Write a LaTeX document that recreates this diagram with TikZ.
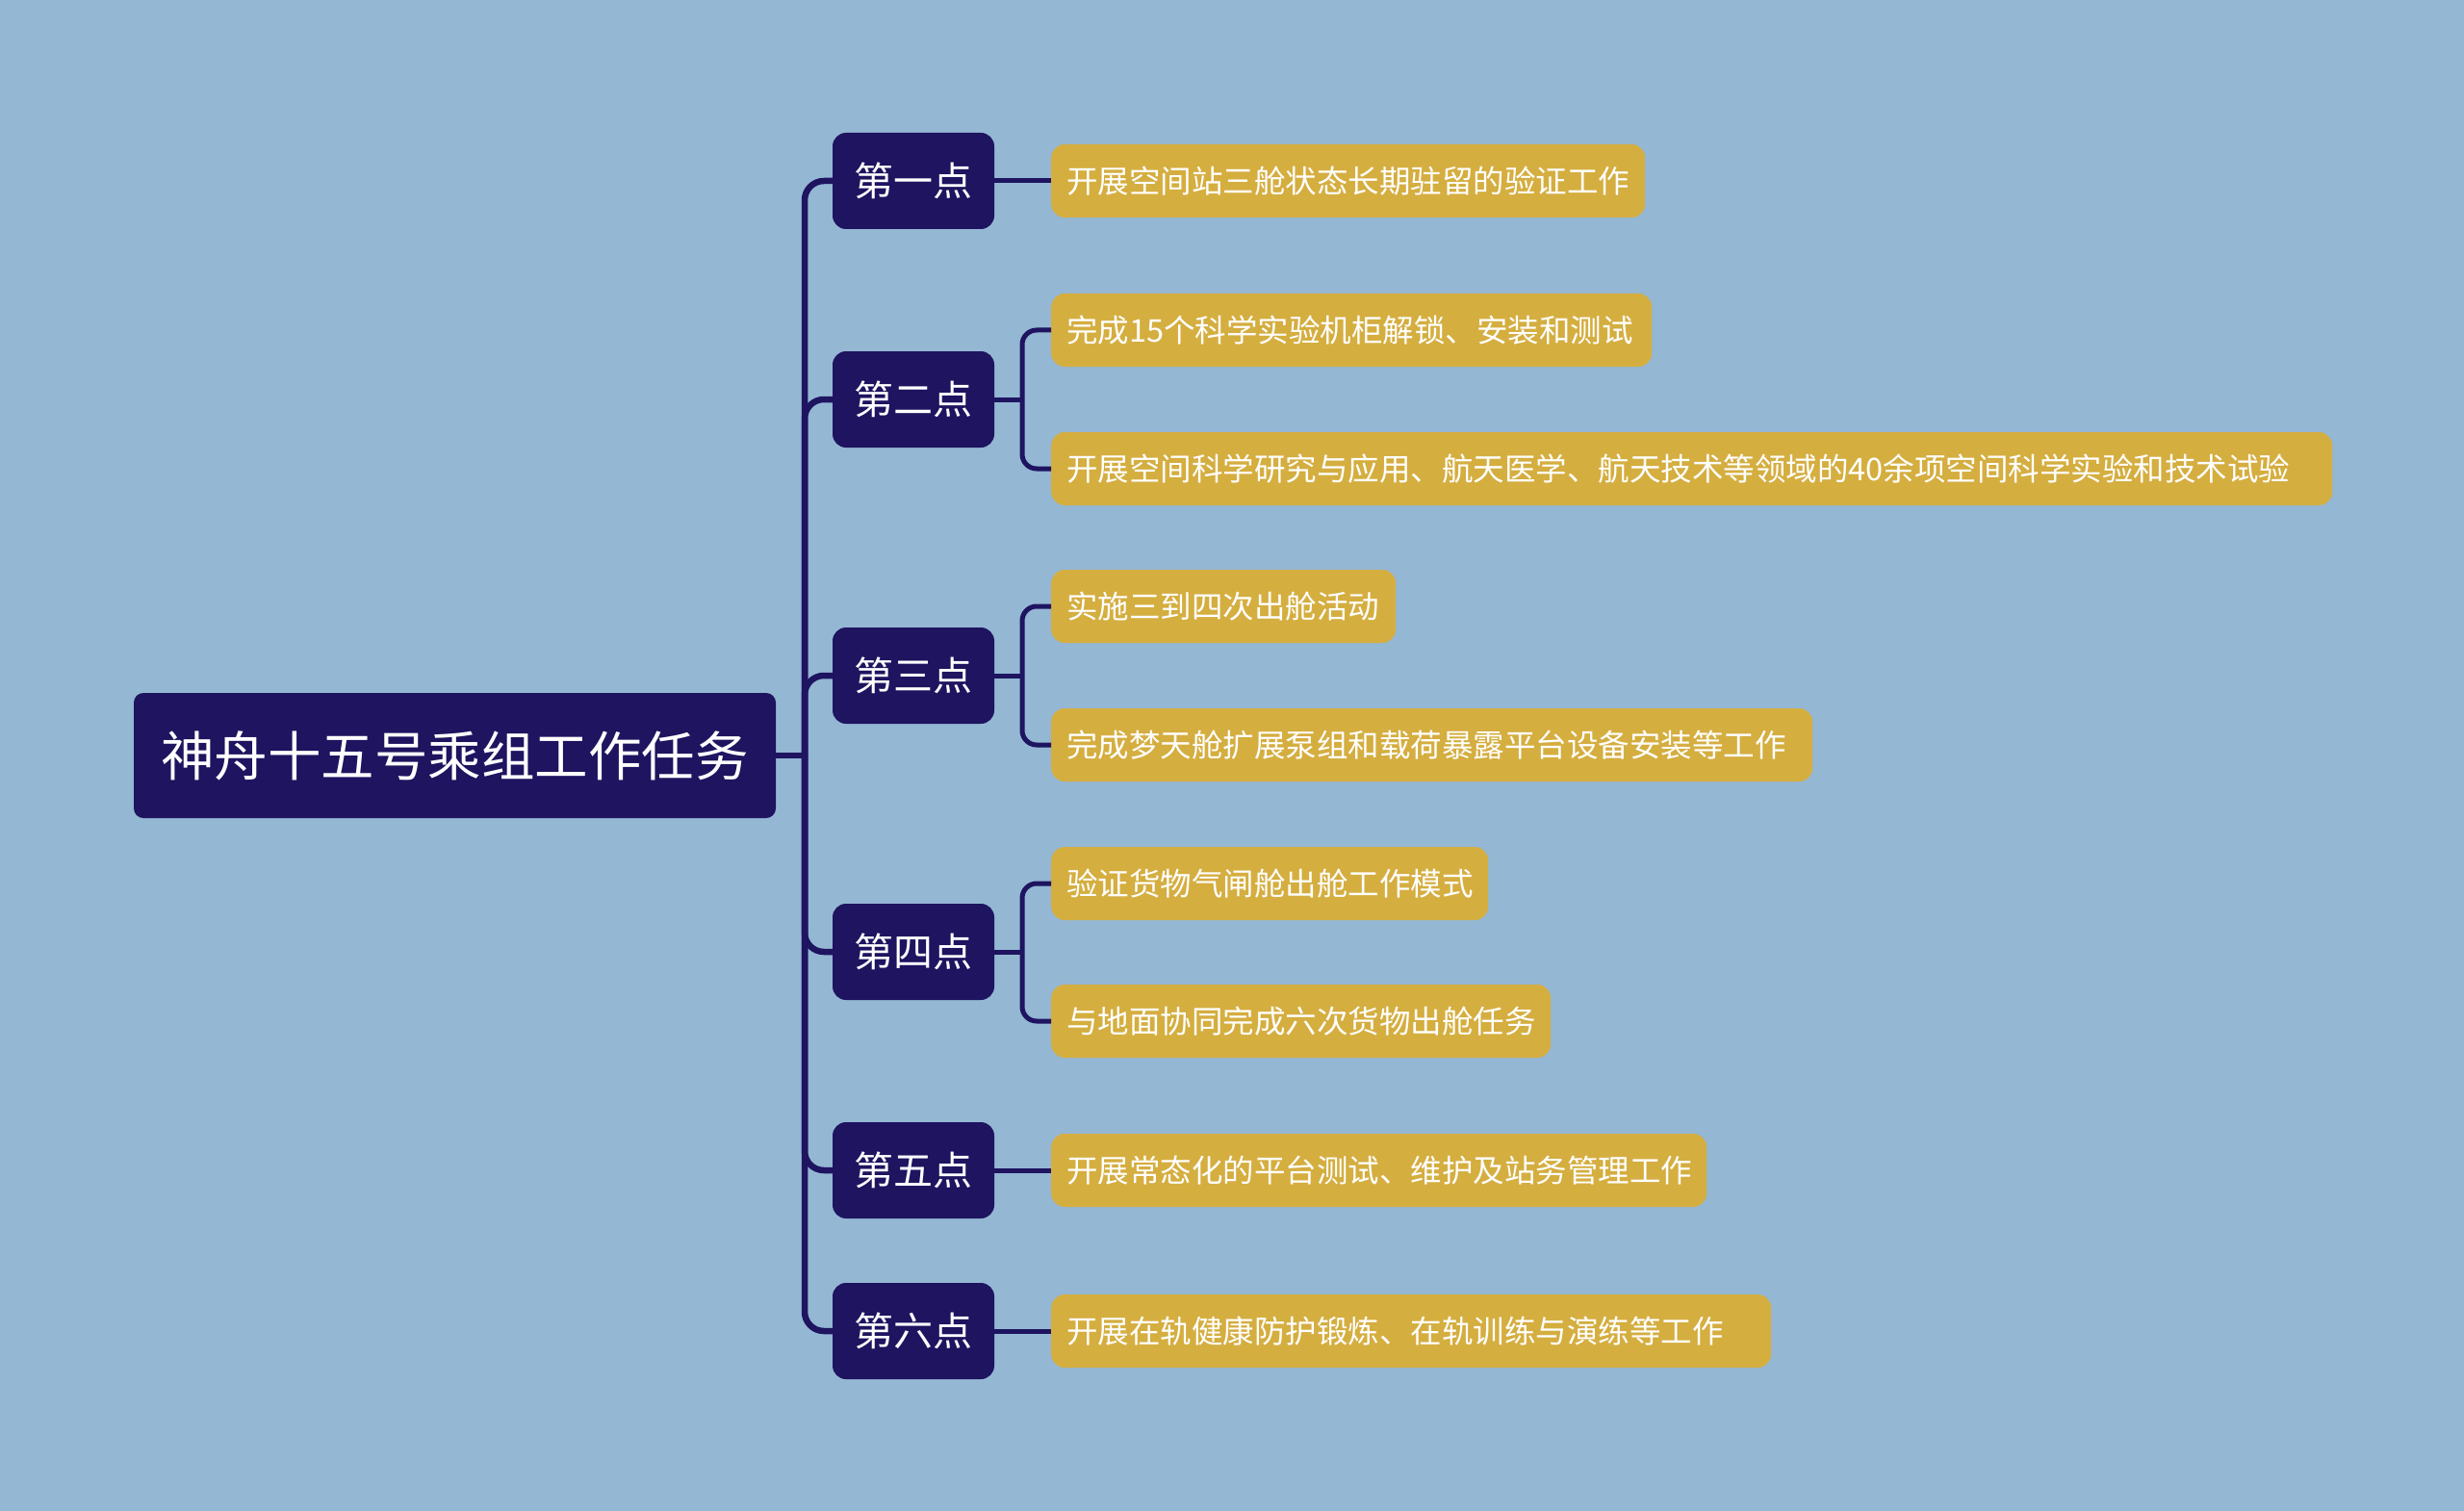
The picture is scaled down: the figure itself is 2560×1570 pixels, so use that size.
\documentclass[tikz,border=0pt]{standalone}
\usepackage{fontspec}
\setmainfont{Noto Sans CJK SC}
\definecolor{bg}{RGB}{148,183,212}
\definecolor{navy}{RGB}{30,20,96}
\definecolor{gold}{RGB}{213,174,64}
\begin{document}
\begin{tikzpicture}[x=1pt,y=-1pt,
 rootbox/.style={fill=navy, draw=none, rounded corners=10pt, text=white, font=\fontsize{55.5}{64}\selectfont, minimum width=667pt, minimum height=130pt, inner sep=0pt},
 ptbox/.style={fill=navy, rounded corners=14pt, text=white, font=\fontsize{41}{50}\selectfont, minimum width=168pt, minimum height=100pt, inner sep=0pt},
 leafbox/.style={fill=gold, rounded corners=14pt, text=white, font=\fontsize{32.5}{40}\selectfont, minimum height=76pt, inner xsep=16pt, inner ysep=0pt, anchor=west, align=left},
 trunk/.style={draw=navy, line width=6.5pt, rounded corners=20pt},
 twig/.style={draw=navy, line width=5pt, rounded corners=15pt}]
\fill[bg] (0,0) rectangle (2560,1570);
\useasboundingbox (0,0) rectangle (2560,1570);

\node[rootbox] (root) at (472.5,785) {神舟十五号乘组工作任务};

\node[ptbox] (p1) at (949,188) {第一点};
\node[ptbox] (p2) at (949,415) {第二点};
\node[ptbox] (p3) at (949,702) {第三点};
\node[ptbox] (p4) at (949,989) {第四点};
\node[ptbox] (p5) at (949,1216) {第五点};
\node[ptbox] (p6) at (949,1383) {第六点};

\node[leafbox, text width=585pt] (l1) at (1092,188) {开展空间站三舱状态长期驻留的验证工作};
\node[leafbox, text width=592pt] (l2a) at (1092,343) {完成15个科学实验机柜解锁、安装和测试};
\node[leafbox, text width=1299pt] (l2b) at (1092,487) {开展空间科学研究与应用、航天医学、航天技术等领域的40余项空间科学实验和技术试验};
\node[leafbox, text width=326pt] (l3a) at (1092,630) {实施三到四次出舱活动};
\node[leafbox, text width=759pt] (l3b) at (1092,774) {完成梦天舱扩展泵组和载荷暴露平台设备安装等工作};
\node[leafbox, text width=422pt] (l4a) at (1092,918) {验证货物气闸舱出舱工作模式};
\node[leafbox, text width=487pt] (l4b) at (1092,1061) {与地面协同完成六次货物出舱任务};
\node[leafbox, text width=649pt] (l5) at (1092,1216) {开展常态化的平台测试、维护及站务管理工作};
\node[leafbox, text width=716pt] (l6) at (1092,1383) {开展在轨健康防护锻炼、在轨训练与演练等工作};

\coordinate (j) at (836,785);
\draw[trunk] (root.east) -- (j);
\foreach \p in {p1,p2,p3,p4,p5,p6}{
  \draw[trunk] (j) |- (\p.west);
}

\draw[twig] (p1.east) -- (l1.west);
\draw[twig] (p5.east) -- (l5.west);
\draw[twig] (p6.east) -- (l6.west);

\coordinate (k2) at (1062,415);
\coordinate (k3) at (1062,702);
\coordinate (k4) at (1062,989);
\draw[twig] (p2.east) -- (k2);
\draw[twig] (k2) |- (l2a.west);
\draw[twig] (k2) |- (l2b.west);
\draw[twig] (p3.east) -- (k3);
\draw[twig] (k3) |- (l3a.west);
\draw[twig] (k3) |- (l3b.west);
\draw[twig] (p4.east) -- (k4);
\draw[twig] (k4) |- (l4a.west);
\draw[twig] (k4) |- (l4b.west);
\end{tikzpicture}
\end{document}
